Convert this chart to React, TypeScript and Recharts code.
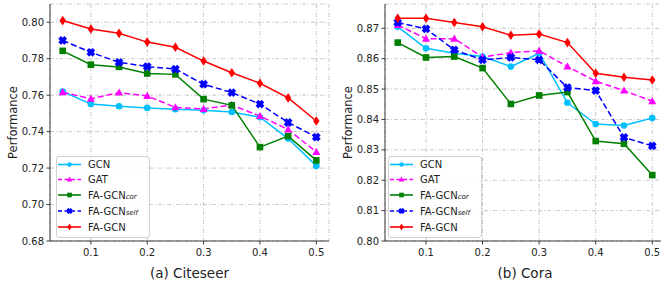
import React from 'react';
import { LineChart, Line, XAxis, YAxis, CartesianGrid, Legend } from 'recharts';

const X_VALUES = [0.05, 0.1, 0.15, 0.2, 0.25, 0.3, 0.35, 0.4, 0.45, 0.5];
const X_TICKS = [0.1, 0.2, 0.3, 0.4, 0.5];

const CITESEER_GCN = [0.762, 0.7551, 0.7539, 0.753, 0.7523, 0.7517, 0.7508, 0.7479, 0.7362, 0.7212];
const CITESEER_GAT = [0.7616, 0.758, 0.7614, 0.7596, 0.7533, 0.7524, 0.7546, 0.7485, 0.7412, 0.7288];
const CITESEER_COR = [0.7843, 0.7767, 0.7755, 0.7719, 0.7714, 0.7578, 0.7544, 0.7315, 0.7375, 0.7242];
const CITESEER_SELF = [0.79, 0.7835, 0.778, 0.7757, 0.7743, 0.766, 0.7614, 0.7551, 0.745, 0.737];
const CITESEER_FAGCN = [0.8009, 0.7963, 0.7939, 0.7891, 0.7863, 0.7787, 0.7723, 0.7665, 0.7585, 0.7458];
const CITESEER_Y_TICKS = [0.68, 0.7, 0.72, 0.74, 0.76, 0.78, 0.8];

const CORA_GCN = [0.8705, 0.8634, 0.8618, 0.8607, 0.8574, 0.8618, 0.8455, 0.8385, 0.838, 0.8405];
const CORA_GAT = [0.8711, 0.8666, 0.8666, 0.8605, 0.862, 0.8626, 0.8574, 0.8526, 0.8495, 0.846];
const CORA_COR = [0.8653, 0.8604, 0.8607, 0.8569, 0.8451, 0.8479, 0.849, 0.8329, 0.832, 0.8217];
const CORA_SELF = [0.8719, 0.8698, 0.8629, 0.8596, 0.8604, 0.8596, 0.8505, 0.8495, 0.8341, 0.8313];
const CORA_FAGCN = [0.8733, 0.8733, 0.8719, 0.8705, 0.8677, 0.8681, 0.8653, 0.8552, 0.8539, 0.853];
const CORA_Y_TICKS = [0.8, 0.81, 0.82, 0.83, 0.84, 0.85, 0.86, 0.87];

const FONT = 'DejaVu Sans';
const AXIS_COLOR = '#3a3a3a';

// series style, matplotlib-ish
const SERIES = [
    { key: 'gcn', name: 'GCN', sub: '', color: '#00bfff', shape: 'circle', dash: undefined },
    { key: 'gat', name: 'GAT', sub: '', color: '#ff00ff', shape: 'triangle', dash: '6 3' },
    { key: 'cor', name: 'FA-GCN', sub: 'cor', color: '#008000', shape: 'square', dash: undefined },
    { key: 'self', name: 'FA-GCN', sub: 'self', color: '#0000ff', shape: 'x', dash: '6 3' },
    { key: 'fagcn', name: 'FA-GCN', sub: '', color: '#ff0000', shape: 'diamond', dash: undefined },
];

const buildRows = (cols: Record<string, number[]>) =>
    X_VALUES.map((x, i) => {
        const row: any = { x };
        Object.keys(cols).forEach(k => { row[k] = cols[k][i]; });
        return row;
    });

const citeseerData = buildRows({ gcn: CITESEER_GCN, gat: CITESEER_GAT, cor: CITESEER_COR, self: CITESEER_SELF, fagcn: CITESEER_FAGCN });
const coraData = buildRows({ gcn: CORA_GCN, gat: CORA_GAT, cor: CORA_COR, self: CORA_SELF, fagcn: CORA_FAGCN });

const Marker = ({ shape, cx, cy, color, s = 1 }: any) => {
    if (cx == null || cy == null) return null;
    switch (shape) {
        case 'circle':
            return <circle cx={cx} cy={cy} r={3.3 * s} fill={color} />;
        case 'triangle':
            return <polygon points={`${cx},${cy - 4.2 * s} ${cx + 4 * s},${cy + 3 * s} ${cx - 4 * s},${cy + 3 * s}`} fill={color} />;
        case 'square':
            return <rect x={cx - 3.3 * s} y={cy - 3.3 * s} width={6.6 * s} height={6.6 * s} fill={color} />;
        case 'x': {
            const L = 4.3 * s, w = 1.9 * s;
            const pts = [[-w, -L], [w, -L], [w, -w], [L, -w], [L, w], [w, w], [w, L], [-w, L], [-w, w], [-L, w], [-L, -w], [-w, -w]]
                .map(p => `${cx + p[0]},${cy + p[1]}`).join(' ');
            return <polygon points={pts} fill={color} transform={`rotate(45 ${cx} ${cy})`} />;
        }
        case 'diamond':
            return <polygon points={`${cx},${cy - 4.8 * s} ${cx + 3.2 * s},${cy} ${cx},${cy + 4.8 * s} ${cx - 3.2 * s},${cy}`} fill={color} />;
        default:
            return null;
    }
};

const LegendBox = () => {
    const rowsY = [8.5, 23.5, 39, 55, 71];
    return (
        <svg width={94} height={82} style={{ display: 'block' }}>
            <rect x={0.5} y={0.5} width={93} height={81} rx={2.5} fill="#ffffff" fillOpacity={0.85} stroke="#d0d0d0" />
            {SERIES.map((s, i) => (
                <g key={s.key}>
                    <line x1={2} x2={25} y1={rowsY[i]} y2={rowsY[i]} stroke={s.color} strokeWidth={1.6} strokeDasharray={s.dash ? '4 2.5' : undefined} />
                    <Marker shape={s.shape} cx={13.5} cy={rowsY[i]} color={s.color} s={0.7} />
                    <text x={32} y={rowsY[i]} dominantBaseline="central" fontSize={10} fontFamily={FONT} fill="#222">
                        {s.name}
                        {s.sub ? <tspan fontSize={7} fontStyle="italic" dy={2}>{s.sub}</tspan> : null}
                    </text>
                </g>
            ))}
        </svg>
    );
};

interface PanelProps {
    data: any[];
    title: string;
    yDomain: [number, number];
    yTicks: number[];
    yAxisWidth: number;
    width: number;
    legendLeft: number;
}

const Panel: React.FC<PanelProps> = ({ data, title, yDomain, yTicks, yAxisWidth, width, legendLeft }) => {
    const tickStyle = { fontSize: 10, fontFamily: FONT, fill: '#222' };
    return (
        <LineChart width={width} height={287} data={data} margin={{ top: 4, right: 1, left: 0, bottom: 0 }}>
            <CartesianGrid stroke="#c8c8c8" strokeDasharray="4 2 1 2" />
            <XAxis
                dataKey="x"
                type="number"
                domain={[0.0275, 0.5225]}
                ticks={X_TICKS}
                allowDataOverflow
                height={46}
                tickSize={3.5}
                tickMargin={4}
                stroke={AXIS_COLOR}
                tick={tickStyle}
                tickFormatter={(v: number) => v.toFixed(1)}
                label={{
                    content: (p: any) => {
                        const vb = p.viewBox;
                        return (
                            <text x={vb.x + vb.width / 2} y={273} textAnchor="middle" dominantBaseline="central" fontSize={13.5} fontFamily={FONT} fill="#222">
                                {title}
                            </text>
                        );
                    },
                }}
            />
            <XAxis xAxisId="top" dataKey="x" type="number" domain={[0.0275, 0.5225]} orientation="top" height={0} tick={false} tickLine={false} stroke={AXIS_COLOR} />
            <YAxis
                type="number"
                domain={yDomain}
                ticks={yTicks}
                allowDataOverflow
                width={yAxisWidth}
                tickSize={3.5}
                tickMargin={2.5}
                stroke={AXIS_COLOR}
                tick={tickStyle}
                tickFormatter={(v: number) => v.toFixed(2)}
                label={{
                    content: (p: any) => {
                        const vb = p.viewBox;
                        const cx = vb.x + yAxisWidth - 37.5;
                        const cy = vb.y + vb.height / 2;
                        return (
                            <text x={cx} y={cy} transform={`rotate(-90 ${cx} ${cy})`} textAnchor="middle" dominantBaseline="central" fontSize={11.5} fontFamily={FONT} fill="#222">
                                Performance
                            </text>
                        );
                    },
                }}
            />
            <YAxis yAxisId="right" orientation="right" width={0} tick={false} tickLine={false} stroke={AXIS_COLOR} />
            {SERIES.map(s => (
                <Line
                    key={s.key}
                    dataKey={s.key}
                    name={s.name}
                    stroke={s.color}
                    strokeWidth={1.5}
                    strokeDasharray={s.dash}
                    isAnimationActive={false}
                    dot={(p: any) => <Marker key={`${s.key}-${p.index}`} shape={s.shape} cx={p.cx} cy={p.cy} color={s.color} />}
                    activeDot={false}
                />
            ))}
            <Legend
                layout="horizontal"
                align="center"
                verticalAlign="middle"
                wrapperStyle={{ left: legendLeft, top: 156, width: 94, height: 82 }}
                content={() => <LegendBox />}
            />
        </LineChart>
    );
};

export default function App() {
    return (
        <div style={{ position: 'absolute', left: 0, top: 0, width: 661, height: 287, overflow: 'hidden', background: '#ffffff' }}>
            <div style={{ position: 'absolute', left: 0, top: 0 }}>
                <Panel data={citeseerData} title="(a) Citeseer" yDomain={[0.68, 0.81]} yTicks={CITESEER_Y_TICKS} yAxisWidth={50} width={330} legendLeft={56} />
            </div>
            <div style={{ position: 'absolute', left: 330, top: 0 }}>
                <Panel data={coraData} title="(b) Cora" yDomain={[0.8, 0.878]} yTicks={CORA_Y_TICKS} yAxisWidth={55} width={336} legendLeft={58} />
            </div>
        </div>
    );
}
